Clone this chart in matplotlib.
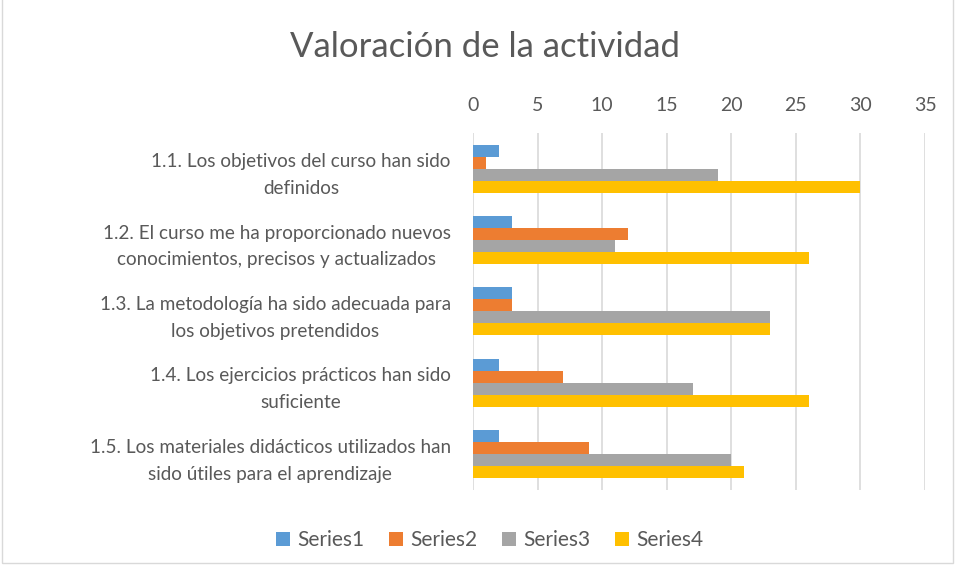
import numpy as np
import matplotlib.pyplot as plt
from matplotlib.patches import Rectangle

categories = [
    "1.1. Los objetivos del curso han sido\ndefinidos",
    "1.2. El curso me ha proporcionado nuevos\nconocimientos, precisos y actualizados",
    "1.3. La metodología ha sido adecuada para\nlos objetivos pretendidos",
    "1.4. Los ejercicios prácticos han sido\nsuficiente",
    "1.5. Los materiales didácticos utilizados han\nsido útiles para el aprendizaje",
]
series_names = ["Series1", "Series2", "Series3", "Series4"]
series1 = [2, 3, 3, 2, 2]
series2 = [1, 12, 3, 7, 9]
series3 = [19, 11, 23, 17, 20]
series4 = [30, 26, 23, 26, 21]
x_ticks = [0, 5, 10, 15, 20, 25, 30, 35]

colors = ["#5B9BD5", "#ED7D31", "#A5A5A5", "#FFC000"]
text_col = "#595959"

plt.rcParams["font.family"] = ["Lato", "DejaVu Sans"]

fig = plt.figure(figsize=(9.55, 5.73), dpi=100)
ax = fig.add_axes([0.4953, 0.1449, 0.4733, 0.623])

y = np.arange(len(categories))
h = 0.168
for i, (name, vals) in enumerate(zip(series_names, [series1, series2, series3, series4])):
    ax.barh(y - 1.5 * h + i * h, vals, height=h, color=colors[i], label=name, zorder=3)

ax.set_xlim(0, 35)
ax.set_ylim(4.5, -0.5)
ax.set_xticks(x_ticks)
ax.xaxis.tick_top()
ax.tick_params(axis="x", length=0, pad=14, labelsize=14, labelcolor=text_col)
ax.tick_params(axis="y", length=0, pad=16, labelsize=13.6, labelcolor=text_col)
ax.set_yticks(y)
ax.set_yticklabels(categories, multialignment="center", linespacing=1.7)
ax.grid(axis="x", color="#D9D9D9", linewidth=1.2, zorder=0)
for s in ax.spines.values():
    s.set_visible(False)

fig.text(0.508, 0.918, "Valoración de la actividad", ha="center", va="center",
         fontsize=25, color=text_col)

fig.legend(loc="center", bbox_to_anchor=(0.513, 0.057), ncol=4, frameon=False,
           fontsize=15, labelcolor=text_col, handlelength=0.65, handleheight=0.65,
           columnspacing=1.2, handletextpad=0.35)

fig.patches.append(Rectangle((0.002, 0.017), 0.996, 0.985, transform=fig.transFigure,
                             fill=False, edgecolor="#D9D9D9", linewidth=1))

fig.savefig("out.png", dpi=100)
